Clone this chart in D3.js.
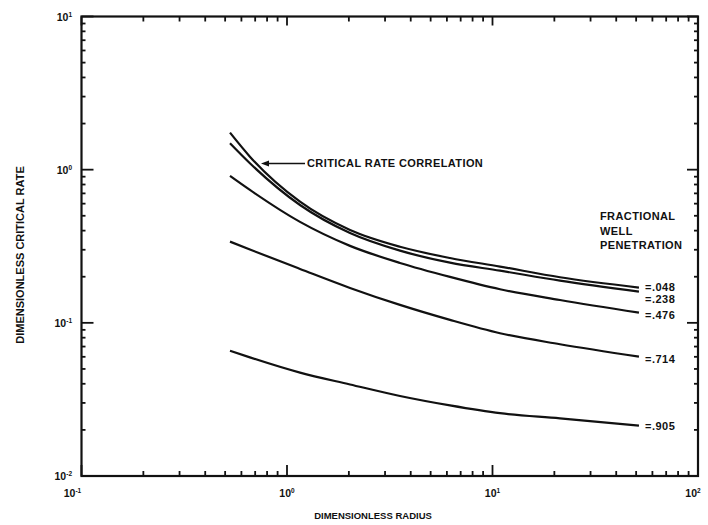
<!DOCTYPE html>
<html><head><meta charset="utf-8">
<script src="https://cdn.jsdelivr.net/npm/d3@7"></script>
<style>
body{margin:0;background:#fff;}
text{font-family:"Liberation Sans",Arial,sans-serif;font-weight:bold;fill:#111;}
</style></head>
<body><svg id="c" width="708" height="525"></svg>
<script>
// ---- data ----
const radius = [0.528, 0.66, 1.157, 2.026, 3.546, 6.21, 10.88, 21.3, 51.6];
const rate048 = [1.744, 1.216, 0.618, 0.404, 0.314, 0.265, 0.233, 0.1985, 0.170];
const rate238 = [1.487, 1.101, 0.588, 0.386, 0.296, 0.247, 0.219, 0.1886, 0.160];
const rate476 = [0.910, 0.737, 0.456, 0.318, 0.246, 0.1995, 0.1657, 0.141, 0.1166];
const rate714 = [0.339, 0.301, 0.2249, 0.169, 0.1309, 0.1045, 0.0855, 0.0725, 0.0602];
const rate905 = [0.0658, 0.0595, 0.0473, 0.0396, 0.0333, 0.0289, 0.0257, 0.0238, 0.0213];
const seriesNames = ["=.048", "=.238", "=.476", "=.714", "=.905"];
const xTickExp = [-1, 0, 1, 2];
const yTickExp = [-2, -1, 0, 1];

const svg = d3.select("#c");
const x = d3.scaleLog().domain([0.1, 100]).range([81.5, 698]);
const y = d3.scaleLog().domain([0.01, 10]).range([476, 16.5]);
const X0 = x.range()[0], X1 = x.range()[1], Y0 = y.range()[0], Y1 = y.range()[1];

const majorX = xTickExp.map(e => Math.pow(10, e));
const majorY = yTickExp.map(e => Math.pow(10, e));
function minors(lo, hi){ const r=[]; for(let e=lo;e<hi;e++) for(let m=2;m<=9;m++) r.push(m*Math.pow(10,e)); return r; }
const minorX = minors(-1, 2), minorY = minors(-2, 1);

const tg = svg.append("g").attr("stroke","#111").attr("stroke-width",1.8);
function ticksX(vals, yBase, len){
  tg.selectAll(null).data(vals).enter().append("line")
    .attr("x1",d=>x(d)).attr("x2",d=>x(d)).attr("y1",yBase).attr("y2",yBase+len);
}
function ticksY(vals, xBase, len){
  tg.selectAll(null).data(vals).enter().append("line")
    .attr("y1",d=>y(d)).attr("y2",d=>y(d)).attr("x1",xBase).attr("x2",xBase+len);
}
ticksX(minorX, Y0, -5); ticksX(majorX, Y0, -11);
ticksX(minorX, Y1, 5);  ticksX(majorX, Y1, 9);
ticksY(minorY, X0, 4);  ticksY(majorY, X0, 12);
ticksY(minorY, X1, -4); ticksY(majorY, X1, -11);

// frame
svg.append("rect").attr("x",X0).attr("y",Y1)
  .attr("width",X1-X0).attr("height",Y0-Y1)
  .attr("fill","none").attr("stroke","#111").attr("stroke-width",2.2);

function pow10Label(sel, e){
  sel.append("tspan").text("10");
  sel.append("tspan").attr("dy",-4).attr("font-size",6.5).text(String(e));
}
yTickExp.forEach(e=>{
  const t = svg.append("text").attr("x",72).attr("y",y(Math.pow(10,e))+4).attr("text-anchor","end").attr("font-size",10.5);
  pow10Label(t,e);
});
xTickExp.forEach(e=>{
  const t = svg.append("text").attr("x",x(Math.pow(10,e))-(e===-1?9:(e===2?5:0))).attr("y",497).attr("text-anchor","middle").attr("font-size",10.5);
  pow10Label(t,e);
});

// axis titles
svg.append("text").attr("x",373).attr("y",519).attr("text-anchor","middle").attr("font-size",9.5).text("DIMENSIONLESS RADIUS");
svg.append("text").attr("transform","translate(24,255) rotate(-90)").attr("text-anchor","middle").attr("font-size",11).text("DIMENSIONLESS CRITICAL RATE");

// curves
const allSeries = [rate048, rate238, rate476, rate714, rate905];
const line = d3.line().x((d,i)=>x(radius[i])).y(d=>y(d)).curve(d3.curveMonotoneX);
allSeries.forEach(s=>{
  svg.append("path").attr("d",line(s)).attr("fill","none").attr("stroke","#111").attr("stroke-width",2.2);
});

// series labels
const labelDy = [-1, 7, 2, 2, 0];
allSeries.forEach((s,i)=>{
  svg.append("text").attr("x",645).attr("y",y(s[s.length-1])+4+labelDy[i]).attr("font-size",11).attr("letter-spacing",0.5).text(seriesNames[i]);
});
["FRACTIONAL","WELL","PENETRATION"].forEach((t,i)=>{
  svg.append("text").attr("x",600).attr("y",220+i*14.5).attr("font-size",11).attr("letter-spacing",0.4).text(t);
});

// annotation
svg.append("text").attr("x",307).attr("y",167).attr("font-size",11).attr("letter-spacing",0.4).text("CRITICAL RATE CORRELATION");
svg.append("line").attr("x1",305).attr("y1",163.5).attr("x2",266).attr("y2",163.5).attr("stroke","#111").attr("stroke-width",1.5);
svg.append("path").attr("d","M261,163.5 L269,160.5 L269,166.5 Z").attr("fill","#111");
</script></body></html>
